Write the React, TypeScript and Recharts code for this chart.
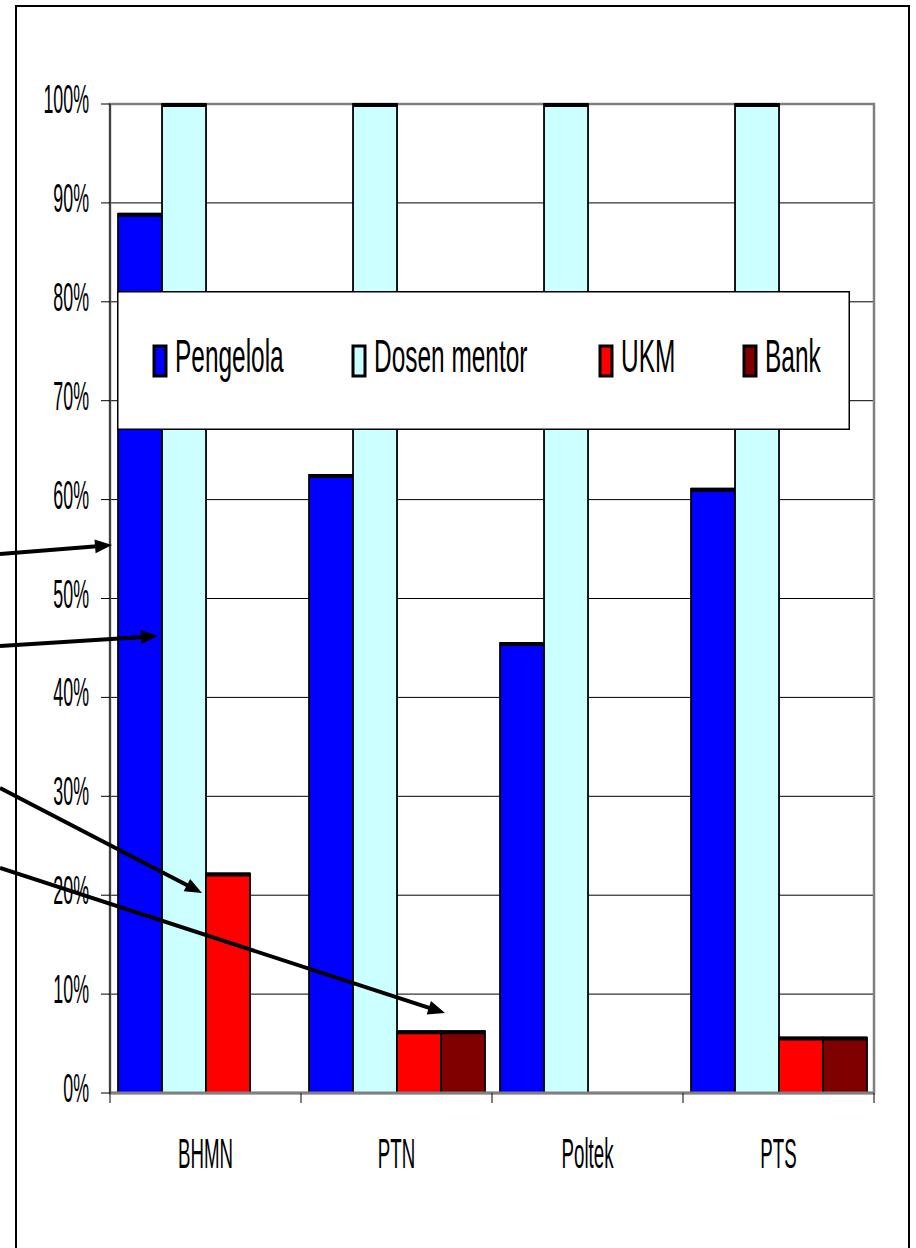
import React from 'react';
import { BarChart, Bar, XAxis, YAxis, CartesianGrid, ReferenceArea, Legend } from 'recharts';

// share of each party involved, per institution type (%)
const categories = ['BHMN', 'PTN', 'Poltek', 'PTS'];
const pengelola = [88.9, 62.5, 45.5, 61.1];
const dosenMentor = [100, 100, 100, 100];
const ukm = [22.2, 6.25, 0, 5.6];
const bank = [0, 6.25, 0, 5.6];
const yTicks = [0, 10, 20, 30, 40, 50, 60, 70, 80, 90, 100];

const series = [
  { key: 'pengelola', name: 'Pengelola', color: '#0000FF', values: pengelola },
  { key: 'dosenMentor', name: 'Dosen mentor', color: '#CCFFFF', values: dosenMentor },
  { key: 'ukm', name: 'UKM', color: '#FF0000', values: ukm },
  { key: 'bank', name: 'Bank', color: '#800000', values: bank },
];

const data = categories.map((name, i) => {
  const row: Record<string, string | number> = { name };
  series.forEach((s) => {
    row[s.key] = s.values[i];
  });
  return row;
});

// pointers drawn over the chart, from the left page edge
const arrows = [
  { from: [0, 554], to: [112, 545] },
  { from: [0, 646], to: [158, 636] },
  { from: [0, 788], to: [202, 893] },
  { from: [0, 868], to: [445, 1013] },
];

const WIDTH = 916;
const HEIGHT = 1248;
const MARGIN = { top: 104, right: 42, bottom: 75, left: 50 };
const Y_AXIS_W = 60;
const X_AXIS_H = 80;
const PLOT_W = WIDTH - MARGIN.left - Y_AXIS_W - MARGIN.right;
const FONT = 'Liberation Sans, Arial, sans-serif';

const BarShape = (props: any) => {
  const { x, y, width, height, fill } = props;
  if (!height || height <= 0) return null;
  return (
    <g>
      <rect x={x} y={y} width={width} height={height} fill={fill} stroke="#000" strokeWidth={1.8} />
      <line x1={x} x2={x + width} y1={y + 1} y2={y + 1} stroke="#000" strokeWidth={4} />
    </g>
  );
};

const YTick = (props: any) => {
  const { x, y, payload } = props;
  return (
    <text
      transform={`translate(${x},${y + 9}) scale(0.435,1)`}
      textAnchor="end"
      fontSize={41}
      fontFamily={FONT}
      fill="#000"
    >
      {payload.value}%
    </text>
  );
};

const XTick = (props: any) => {
  const { x, y, payload, index } = props;
  const band = PLOT_W / categories.length;
  const left = x - band / 2;
  return (
    <g>
      <line x1={left} x2={left} y1={y - 10} y2={y} stroke="#000" strokeWidth={1} />
      {index === categories.length - 1 && (
        <line x1={left + band} x2={left + band} y1={y - 10} y2={y} stroke="#000" strokeWidth={1} />
      )}
      <text
        transform={`translate(${x},${y + 65}) scale(0.445,1)`}
        textAnchor="middle"
        fontSize={42}
        fontFamily={FONT}
        fill="#000"
      >
        {payload.value}
      </text>
    </g>
  );
};

const LegendBox = () => {
  const itemX = [36, 235, 482, 626];
  return (
    <svg width={733} height={139} style={{ display: 'block' }}>
      <rect x={0.75} y={0.75} width={731.5} height={137.5} fill="#fff" stroke="#000" strokeWidth={1.5} />
      {series.map((s, i) => (
        <g key={s.key}>
          <rect x={itemX[i] + 1} y={55} width={12} height={30} fill={s.color} stroke="#000" strokeWidth={3} />
          <text
            transform={`translate(${itemX[i] + 22},81) scale(0.52,1)`}
            fontSize={47}
            fontFamily={FONT}
            fill="#000"
          >
            {s.name}
          </text>
        </g>
      ))}
    </svg>
  );
};

const Arrows = () => (
  <svg
    width={WIDTH}
    height={HEIGHT}
    style={{ position: 'absolute', left: 0, top: 0, pointerEvents: 'none' }}
  >
    {arrows.map((a, i) => {
      const [x1, y1] = a.from;
      const [x2, y2] = a.to;
      const len = Math.hypot(x2 - x1, y2 - y1);
      const ux = (x2 - x1) / len;
      const uy = (y2 - y1) / len;
      const head = 17;
      const half = 7;
      const bx = x2 - ux * head;
      const by = y2 - uy * head;
      const pts = `${x2},${y2} ${bx - uy * half},${by + ux * half} ${bx + uy * half},${by - ux * half}`;
      return (
        <g key={i}>
          <line x1={x1} y1={y1} x2={bx + ux * 2} y2={by + uy * 2} stroke="#000" strokeWidth={4} />
          <polygon points={pts} fill="#000" />
        </g>
      );
    })}
  </svg>
);

export default function App() {
  return (
    <div style={{ position: 'absolute', left: 0, top: 0, width: WIDTH, height: HEIGHT, background: '#fff' }}>
      <div
        style={{
          position: 'absolute',
          left: 15,
          top: 5,
          width: 891,
          height: 1243,
          borderLeft: '2px solid #000',
          borderTop: '2px solid #000',
          borderRight: '2px solid #000',
        }}
      />
      <div style={{ position: 'absolute', left: 0, top: 0 }}>
        <BarChart
          width={WIDTH}
          height={HEIGHT}
          data={data}
          margin={MARGIN}
          barCategoryGap="4.2%"
          barGap={0}
        >
          <CartesianGrid vertical={false} stroke="#000" strokeWidth={1} />
          <ReferenceArea y1={0} y2={100} fill="none" stroke="#808080" strokeWidth={2.5} />
          <XAxis
            dataKey="name"
            height={X_AXIS_H}
            interval={0}
            tickLine={false}
            tickSize={10}
            tickMargin={0}
            axisLine={{ stroke: '#808080', strokeWidth: 3 }}
            tick={(p: any) => <XTick {...p} />}
          />
          <YAxis
            type="number"
            width={Y_AXIS_W}
            domain={[0, 100]}
            ticks={yTicks}
            interval={0}
            tickSize={9}
            tickMargin={12}
            axisLine={{ stroke: '#000', strokeWidth: 1 }}
            tickLine={{ stroke: '#000', strokeWidth: 1 }}
            tick={(p: any) => <YTick {...p} />}
          />
          <Legend
            verticalAlign="middle"
            align="center"
            wrapperStyle={{ left: 117, top: 291, width: 733, height: 139 }}
            content={() => <LegendBox />}
          />
          {series.map((s) => (
            <Bar
              key={s.key}
              dataKey={s.key}
              name={s.name}
              fill={s.color}
              isAnimationActive={false}
              shape={(p: any) => <BarShape {...p} />}
            />
          ))}
        </BarChart>
      </div>
      <Arrows />
    </div>
  );
}
